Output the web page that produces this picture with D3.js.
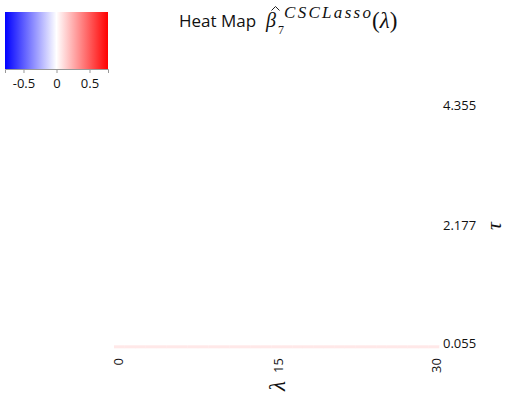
<!DOCTYPE html>
<html>
<head>
<meta charset="utf-8">
<script src="https://cdn.jsdelivr.net/npm/d3@7"></script>
<style>
  body { margin: 0; background: #fff; }
  svg { display: block; }
</style>
</head>
<body>
<svg id="chart" width="510" height="411"></svg>
<script>
// ---- data ----
const lambdaValues = [0,1,2,3,4,5,6,7,8,9,10,11,12,13,14,15,16,17,18,19,20,21,22,23,24,25,26,27,28,29,30];
const lambdaTicks = [0, 15, 30];
const tauMin = 0.055, tauMax = 4.355, tauCount = 80;
const tauTicks = [0.055, 2.177, 4.355];
// only the bottom tau row (tau = 0.055) is non-zero; all other rows are 0
const bottomRowValues = [0.07,0.07,0.07,0.07,0.07,0.07,0.07,0.07,0.07,0.07,0.07,0.07,0.07,0.07,0.07,0.07,0.07,0.07,0.07,0.07,0.07,0.07,0.07,0.07,0.07,0.07,0.07,0.07,0.07,0.07,0.07];
const colorTicks = [-0.5, 0, 0.5];
const colorExtent = [-0.78, 0.78];

const tauValues = d3.range(tauCount).map(i => tauMin + i * (tauMax - tauMin) / (tauCount - 1));
const cells = [];
tauValues.forEach((t, ti) => {
  lambdaValues.forEach((l, li) => {
    cells.push({ tau: t, lambda: l, value: ti === 0 ? bottomRowValues[li] : 0 });
  });
});

const svg = d3.select("#chart");
const sans = "'Open Sans', 'Noto Sans', sans-serif";
const serif = "'Liberation Serif', 'DejaVu Serif', serif";

const color = d3.scaleLinear().domain([colorExtent[0], 0, colorExtent[1]]).range(["#0000ff", "#ffffff", "#ff0000"]);

const x = d3.scaleLinear().domain([-0.5, 30.5]).range([114, 439]);
const y = d3.scaleLinear().domain([tauMin, tauMax]).range([345, 107]);
const stepH = Math.abs(y(tauValues[1]) - y(tauValues[0]));

svg.append("g").selectAll("rect").data(cells).join("rect")
  .attr("x", d => x(d.lambda - 0.5))
  .attr("y", d => y(d.tau))
  .attr("width", x(1) - x(0) + 0.3)
  .attr("height", stepH + 0.3)
  .attr("fill", d => color(d.value));

// x axis labels (rotated)
svg.append("g").selectAll("text").data(lambdaTicks).join("text")
  .attr("transform", d => `translate(${x(d) + (d === 0 ? -1 : d === 30 ? 3 : 1.5)},358) rotate(-90)`)
  .attr("text-anchor", "end")
  .attr("dy", "0.35em")
  .style("font-family", sans).style("font-size", "13px").attr("fill", "#111")
  .text(d => d);

svg.append("text")
  .attr("transform", "translate(278,386) rotate(-90)")
  .attr("text-anchor", "middle").attr("dy", "0.3em")
  .style("font-family", serif).style("font-style", "italic").style("font-size", "23px").attr("fill", "#111")
  .text("λ");

// y axis labels
svg.append("g").selectAll("text").data(tauTicks).join("text")
  .attr("x", 443)
  .attr("y", d => y(d) - 2)
  .attr("dy", "0.35em")
  .style("font-family", sans).style("font-size", "13px").attr("fill", "#111")
  .text(d => d);

svg.append("text")
  .attr("transform", "translate(494,226) rotate(-90)")
  .attr("text-anchor", "middle").attr("dy", "0.3em")
  .style("font-family", serif).style("font-style", "italic").style("font-size", "22px").attr("fill", "#111")
  .text("τ");

// title
svg.append("text").attr("x", 179).attr("y", 27)
  .style("font-family", sans).style("font-size", "17px").attr("fill", "#111")
  .text("Heat Map");
const mt = svg.append("g").attr("fill", "#111").style("font-family", serif);
mt.append("text").attr("x", 266).attr("y", 27).style("font-style", "italic").style("font-size", "20px").text("β");
mt.append("path").attr("d", "M271.5,10.5 L275.5,6.5 L279.5,10.5").attr("fill", "none").attr("stroke", "#222").attr("stroke-width", 1);
mt.append("text").attr("x", 278).attr("y", 34).style("font-size", "12px").text("7");
mt.append("text").attr("x", 284).attr("y", 18).style("font-style", "italic").style("font-size", "17px")
  .attr("textLength", 87).attr("lengthAdjust", "spacing").text("CSCLasso");
mt.append("text").attr("x", 372).attr("y", 28).style("font-size", "23px")
  .html('(<tspan font-style="italic">λ</tspan>)');

// colorbar
const cb = d3.scaleLinear().domain(colorExtent).range([5, 108]);
const grad = svg.append("defs").append("linearGradient").attr("id", "cbgrad");
grad.selectAll("stop").data(d3.range(0, 1.0001, 0.1)).join("stop")
  .attr("offset", d => d)
  .attr("stop-color", d => color(colorExtent[0] + d * (colorExtent[1] - colorExtent[0])));
svg.append("rect").attr("x", 5).attr("y", 12).attr("width", 103).attr("height", 57).attr("fill", "url(#cbgrad)");
const cbAxis = svg.append("g").attr("transform", "translate(0,69)")
  .call(d3.axisBottom(cb).tickValues(colorTicks).tickSize(4).tickFormat(d => d));
cbAxis.select(".domain").attr("stroke", "#999");
cbAxis.selectAll(".tick line").attr("stroke", "#999");
cbAxis.selectAll(".tick text").style("font-family", sans).style("font-size", "13px").attr("fill", "#111").attr("dy", "0.95em");
</script>
</body>
</html>
